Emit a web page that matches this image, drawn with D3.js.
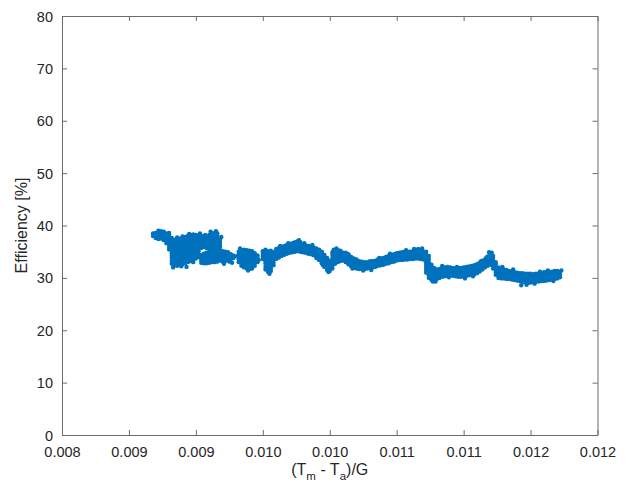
<!DOCTYPE html>
<html><head><meta charset="utf-8">
<script src="https://cdn.jsdelivr.net/npm/d3@7"></script>
<style>body{margin:0;background:#fff}svg{display:block}</style>
</head><body>
<svg id="chart" width="629" height="491"></svg>
<script>
const xTickValues = [0.008,0.0085,0.009,0.0095,0.010,0.0105,0.011,0.0115,0.012];
const xTickLabels = ["0.008","0.009","0.009","0.010","0.010","0.011","0.011","0.012","0.012"];
const yTickValues = [0,10,20,30,40,50,60,70,80];
const xTitle = ["(T","m"," - T","a",")/G"];
const yTitle = "Efficiency [%]";

// x value of each sample column
const tmTaG = [
0.00868,0.00870,0.00872,0.00874,0.00876,0.00878,0.00880,0.00882,
0.00884,0.00886,0.00888,0.00890,0.00892,0.00894,0.00896,0.00898,
0.00900,0.00902,0.00904,0.00906,0.00908,0.00910,0.00912,0.00914,
0.00916,0.00918,0.00920,0.00922,0.00924,0.00926,0.00928,0.00930,
0.00932,0.00934,0.00936,0.00938,0.00940,0.00942,0.00944,0.00946,
0.00950,0.00952,0.00954,0.00956,0.00958,0.00960,0.00962,0.00964,
0.00966,0.00968,0.00970,0.00972,0.00974,0.00976,0.00978,0.00980,
0.00982,0.00984,0.00986,0.00988,0.00990,0.00992,0.00994,0.00996,
0.00998,0.01000,0.01002,0.01004,0.01006,0.01008,0.01010,0.01012,
0.01014,0.01016,0.01018,0.01020,0.01022,0.01024,0.01026,0.01028,
0.01030,0.01032,0.01034,0.01036,0.01038,0.01040,0.01042,0.01044,
0.01046,0.01048,0.01050,0.01052,0.01054,0.01056,0.01058,0.01060,
0.01062,0.01064,0.01066,0.01068,0.01070,0.01072,0.01074,0.01076,
0.01078,0.01080,0.01082,0.01084,0.01086,0.01088,0.01090,0.01092,
0.01094,0.01096,0.01098,0.01100,0.01102,0.01104,0.01106,0.01108,
0.01110,0.01112,0.01114,0.01116,0.01118,0.01120,0.01122,0.01124,
0.01126,0.01128,0.01130,0.01132,0.01134,0.01136,0.01138,0.01140,
0.01142,0.01144,0.01146,0.01148,0.01150,0.01152,0.01154,0.01156,
0.01158,0.01160,0.01162,0.01164,0.01166,0.01168,0.01170,0.01172
];

// efficiency samples [%] observed at each column
const efficiency = [
[38.0,38.5],[37.6,38.1,38.6],[37.4,37.9,38.5,39.0],[37.5,38.0,38.4,38.9],[37.2,37.7,38.3,38.8],[36.6,37.2,37.6,38.1,38.5],[35.4,35.9,36.5,36.9,37.4,37.9,38.3],[32.7,33.2,33.8,34.2,34.7,35.3,35.7,36.2,36.8,37.2,37.6],
[32.4,32.9,33.4,34.0,34.4,34.9,35.5,35.9,36.4,36.9,37.3],[32.3,32.8,33.3,33.8,34.4,34.8,35.3,35.8,36.3,36.9,37.3],[32.5,33.0,33.6,34.0,34.5,35.1,35.5,36.0,36.6,37.0,37.5],[32.6,33.1,33.6,34.1,34.7,35.1,35.6,36.2,36.6,37.1,37.6,37.9],[32.8,33.3,33.8,34.4,34.8,35.3,35.9,36.3,36.8,37.4,37.8],[33.0,33.5,34.1,34.5,35.0,35.6,36.0,36.5,37.1,37.5,38.0],[33.2,33.7,34.2,34.8,35.2,35.7,36.3,36.7,37.2,37.8,38.2],[33.4,33.9,34.5,34.9,35.4,36.0,36.4,36.9,37.5,37.9,38.3],
[33.7,34.2,34.7,35.3,35.7,36.2,36.8,37.2,37.7,38.2],[34.0,34.5,35.1,35.5,36.0,36.6,37.0,37.5,38.0],[32.9,33.4,34.0,34.4,35.7,36.2,36.8,37.2,37.7,38.0],[32.8,33.3,33.8,34.3,34.6,35.9,36.4,36.9,37.4,37.9],[32.8,33.4,33.8,34.3,34.8,35.7,36.2,36.7,37.3,37.7],[32.9,33.4,33.9,34.5,34.8,35.4,35.9,36.4,37.0,37.4,37.9,38.2],[33.0,33.5,34.1,34.5,35.0,35.6,36.0,36.5,37.1,37.5,38.0,38.5],[33.0,33.6,34.0,34.5,35.1,35.5,36.0,36.6,37.0,37.5,38.1,38.6],
[33.1,33.6,34.1,34.7,35.1,35.6,36.2,36.6,37.1,37.7,38.1,38.5],[33.3,33.8,34.4,34.8,35.3,35.9,36.3,36.8,37.3],[33.1,33.6,34.2,34.6,35.1],[33.2,33.7,34.2,34.7,35.0],[33.4,33.9,34.4,34.9],[33.5,34.0,34.5],[33.8,34.3],[34.1],
[33.0,33.5,34.1,34.5,35.0],[32.3,32.8,33.4,33.8,34.3,34.9,35.3],[32.0,32.5,33.0,33.6,34.0,34.5,35.0,35.4],[31.8,32.3,32.9,33.3,33.8,34.4,34.8,35.3],[31.7,32.2,32.7,33.3,33.7,34.2,34.8,35.2],[31.8,32.3,32.8,33.4,33.8,34.3,34.8,35.1],[32.3,32.9,33.3,33.8,34.4,34.7],[33.0,33.5,34.0,34.3],
[33.6,34.1,34.6,35.1],[31.6,32.1,32.7,33.1,33.6,34.2,34.6,35.1,35.4],[31.1,31.6,32.1,32.7,33.1,33.6,34.2,34.6,35.1],[31.3,31.8,32.4,32.8,33.3,33.9,34.3,34.8,35.2],[32.4,32.9,33.5,33.9,34.4,34.9],[33.6,34.1,34.7,35.1,35.5],[33.9,34.4,34.9,35.4,35.7],[34.2,34.7,35.3,35.7,35.9],
[34.4,34.9,35.4,35.9,36.1],[34.6,35.1,35.7,36.1,36.3],[34.8,35.3,35.8,36.3,36.5],[34.9,35.4,36.0,36.4,36.6],[35.0,35.5,36.0,36.5,36.8],[35.1,35.6,36.2,36.6,37.0],[35.0,35.5,36.0,36.5,36.8],[34.9,35.4,36.0,36.4],
[34.8,35.3,35.8,36.2],[34.6,35.1,35.7,36.1],[34.5,35.0,35.5,36.0],[34.3,34.8,35.4,35.8],[33.8,34.3,34.8,35.3,35.6],[33.4,33.9,34.5,34.9,35.4],[32.8,33.3,33.8,34.4,34.8,35.0],[32.1,32.6,33.2,33.6,34.1,34.4],
[31.5,32.0,32.5,33.1,33.5,33.8],[31.3,31.8,32.3,32.8,33.3],[31.8,32.3,32.9,33.3,33.8,34.4,34.9],[32.7,33.2,33.7,34.3,34.7,35.2],[33.0,33.5,34.0,34.5,35.0,35.3],[33.2,33.7,34.3,34.7,35.2],[33.3,33.8,34.3,34.8],[33.0,33.5,34.1,34.5,34.8],
[32.6,33.1,33.6,34.1,34.5],[32.2,32.7,33.3,33.7,34.0],[31.9,32.4,32.9,33.4,33.7],[31.8,32.3,32.8,33.3,33.5],[31.7,32.2,32.7,33.2],[31.7,32.2,32.7,33.1],[31.7,32.2,32.6,33.0],[31.8,32.3,32.7,33.0],
[31.9,32.4,32.8,33.2],[32.0,32.5,32.9,33.2],[32.1,32.6,33.0,33.3],[32.3,32.8,33.2,33.5],[32.4,32.9,33.3,33.7],[32.5,33.0,33.4,33.8],[32.7,33.2,33.6,34.0],[32.8,33.3,33.8,34.2],
[33.0,33.5,34.0,34.4],[33.1,33.6,34.1,34.5],[33.3,33.8,34.3,34.7],[33.4,33.9,34.4,34.8],[33.4,33.9,34.4,34.9],[33.5,34.0,34.5,35.0],[33.5,34.0,34.5,35.0],[33.6,34.1,34.6,35.0],
[33.6,34.1,34.6,35.1],[33.7,34.2,34.7,35.3],[33.7,34.2,34.7,35.2,35.5],[33.6,34.1,34.6,35.1,35.3],[33.5,34.0,34.5,35.0],[31.0,31.5,32.0,32.5,33.0,33.5,34.0,34.5,35.0],[30.0,30.5,31.0,31.5,32.0,32.5,33.0,33.6,34.2],[29.6,30.1,30.6,31.1,31.6,32.1,32.5],
[29.6,30.1,30.6,31.1,31.5,31.9],[29.8,30.3,30.8,31.3,31.6],[30.0,30.5,31.0,31.5,31.7],[30.2,30.7,31.2,31.7,31.9],[30.3,30.8,31.3,31.8,32.0],[30.4,30.9,31.4,31.9,32.1],[30.5,31.0,31.5,32.0],[30.4,30.9,31.4,31.9],
[30.3,30.8,31.3,31.8],[30.2,30.7,31.2,31.7,31.9],[30.2,30.7,31.2,31.7,31.9],[30.3,30.8,31.3,31.8,32.0],[30.4,30.9,31.4,31.9,32.1],[30.5,31.0,31.5,32.0,32.2],[30.6,31.1,31.6,32.1,32.3],[30.7,31.2,31.7,32.2,32.4],
[30.9,31.4,31.9,32.4,32.6],[31.2,31.7,32.2,32.7,32.9],[31.6,32.1,32.6,33.1,33.3],[32.0,32.5,33.0,33.5],[32.3,32.8,33.3,33.8,34.1],[32.5,33.0,33.5,34.0,34.5],[31.8,32.3,32.8,33.3,33.8,34.2],[30.6,31.1,31.6,32.1,32.6,33.0],
[30.0,30.5,31.0,31.5,32.0],[29.9,30.4,30.9,31.4,31.8],[29.9,30.4,30.9,31.4,31.6],[29.8,30.3,30.8,31.3,31.5],[29.8,30.3,30.8,31.3],[29.7,30.2,30.7,31.2],[29.6,30.1,30.6,31.1],[29.5,30.0,30.5,31.0],
[29.4,29.9,30.4,30.9],[29.2,29.7,30.2,30.7,30.9],[29.1,29.6,30.1,30.6,30.8],[29.0,29.5,30.0,30.5,30.8],[29.1,29.6,30.1,30.6,30.8],[29.2,29.7,30.2,30.7],[29.3,29.8,30.3,30.8],[29.3,29.8,30.3,30.8],
[29.4,29.9,30.4,30.9],[29.4,29.9,30.4,30.9,31.1],[29.5,30.0,30.5,31.0,31.2],[29.6,30.1,30.6,31.1],[29.7,30.2,30.7,31.2],[29.8,30.3,30.8,31.3],[29.9,30.4,30.9,31.3],[30.1,30.6,31.1]
];

// isolated samples around the cloud edge
const strayX = [0.00911,0.00893,0.00927,0.00933,0.00977,0.01005,0.01063,0.01077,0.01101,0.01119,0.01143,0.01153,0.01163,0.01084,0.01031,
  0.00880,0.00886,0.00895,0.00903,0.00907,0.00915,0.00919,0.00883,0.00889,0.00898,0.00921,0.00925,
  0.00939,0.00947,0.00955,0.00963,0.00969,0.00981,0.00987,0.00995,0.00999,0.01003,0.01017,0.01025,0.01037,0.01045,0.01057,0.01069,
  0.01079,0.01089,0.01095,0.01107,0.01113,0.01117,0.01121,0.01129,0.01137,0.01147,0.01157,0.01167,0.01173];
const strayY = [38.8,32.1,32.9,35.6,37.2,35.6,35.5,29.3,29.9,34.9,28.6,28.9,31.4,32.3,31.5,
  38.6,37.7,38.4,38.5,38.2,38.9,37.8,32.0,32.2,33.0,32.7,33.1,
  31.4,33.4,30.8,36.1,36.6,36.6,36.3,32.4,31.1,35.4,31.8,31.4,33.8,34.6,35.3,35.6,
  29.3,30.1,32.1,30.3,33.2,33.9,34.8,32.1,31.6,28.7,31.2,29.4,31.4];

if (tmTaG.length !== efficiency.length) throw new Error("length mismatch " + tmTaG.length + " vs " + efficiency.length);
if (strayX.length !== strayY.length) throw new Error("stray mismatch " + strayX.length + " vs " + strayY.length);

const M = {left: 62, right: 597.5, top: 16, bottom: 435};
const svg = d3.select("#chart");
const x = d3.scaleLinear().domain([0.008, 0.012]).range([M.left, M.right]);
const y = d3.scaleLinear().domain([0, 80]).range([M.bottom, M.top]);

const FONT = "'Liberation Sans', Arial, Helvetica, sans-serif";
const AX = "#6b6b6b";
const TXT = "#262626";
const BLUE = "#0072BD";

// points
const pts = [];
tmTaG.forEach((xv, i) => efficiency[i].forEach(yv => pts.push([xv, yv])));
strayX.forEach((xv, i) => pts.push([xv, strayY[i]]));

svg.append("g").selectAll("circle").data(pts).join("circle")
  .attr("cx", d => x(d[0])).attr("cy", d => y(d[1])).attr("r", 2.2)
  .attr("fill", BLUE);

// axes
const gx = svg.append("g").attr("transform", `translate(0,${M.bottom})`)
  .call(d3.axisBottom(x).tickValues(xTickValues).tickFormat((d, i) => xTickLabels[i]).tickSizeInner(-5).tickSizeOuter(0).tickPadding(12));
const gxt = svg.append("g").attr("transform", `translate(0,${M.top})`)
  .call(d3.axisTop(x).tickValues(xTickValues).tickFormat("").tickSizeInner(-5).tickSizeOuter(0));
const gy = svg.append("g").attr("transform", `translate(${M.left},0)`)
  .call(d3.axisLeft(y).tickValues(yTickValues).tickFormat(d3.format("d")).tickSizeInner(-5).tickSizeOuter(0).tickPadding(9));
const gyr = svg.append("g").attr("transform", `translate(${M.right},0)`)
  .call(d3.axisRight(y).tickValues(yTickValues).tickFormat("").tickSizeInner(-5).tickSizeOuter(0));

[gx, gxt, gy, gyr].forEach(g => {
  g.select(".domain").attr("stroke", AX).attr("stroke-width", 1);
  g.selectAll(".tick line").attr("stroke", AX).attr("stroke-width", 1);
  g.selectAll("text").attr("fill", TXT).style("font-family", FONT).style("font-size", "14.5px");
});
gy.selectAll(".tick text").attr("dy", "0.35em");

// y title
svg.append("text")
  .attr("transform", `translate(27,${(M.top + M.bottom) / 2}) rotate(-90)`)
  .attr("text-anchor", "middle")
  .attr("fill", TXT).style("font-family", FONT).style("font-size", "16px")
  .text(yTitle);

// x title
const xt = svg.append("text")
  .attr("x", (M.left + M.right) / 2).attr("y", 475)
  .attr("text-anchor", "middle")
  .attr("fill", TXT).style("font-family", FONT).style("font-size", "16px");
xt.append("tspan").text(xTitle[0]);
xt.append("tspan").attr("dy", 5).style("font-size", "11.5px").text(xTitle[1]);
xt.append("tspan").attr("dy", -5).text(xTitle[2]);
xt.append("tspan").attr("dy", 5).style("font-size", "11.5px").text(xTitle[3]);
xt.append("tspan").attr("dy", -5).text(xTitle[4]);
</script>
</body></html>
